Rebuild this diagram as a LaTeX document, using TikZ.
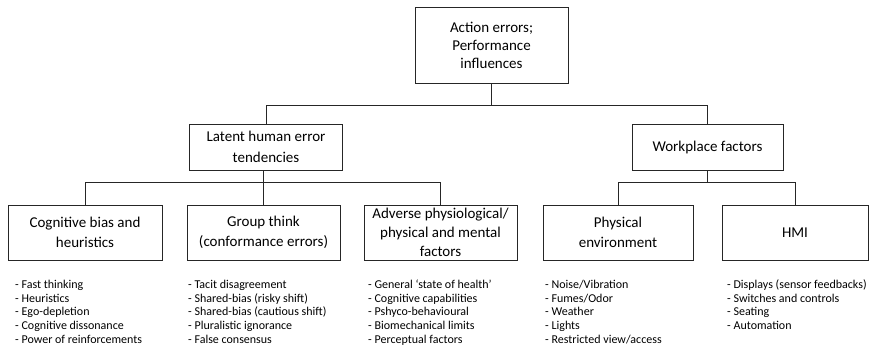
\documentclass[tikz,border=0pt]{standalone}
\usepackage{fontspec}
\setmainfont{Carlito}
\begin{document}
\begin{tikzpicture}[x=1pt,y=-1pt,
  box/.style={draw=black!85, line width=0.7pt, align=center, inner sep=2pt},
  link/.style={draw=black!85, line width=0.7pt},
  items/.style={anchor=base west, align=left, inner sep=0pt,
    font=\fontsize{12}{13.75}\selectfont}]
\useasboundingbox (0,0) rectangle (869,348);

% level 0
\node[box, minimum width=153pt, minimum height=76pt,
  font=\fontsize{15}{18}\selectfont] (top) at (491.5,45)
  {Action errors;\\Performance\\influences};

% level 1
\node[box, minimum width=153pt, minimum height=46pt,
  font=\fontsize{15}{21}\selectfont] (latent) at (266,147)
  {Latent human error\\tendencies};
\node[box, minimum width=151pt, minimum height=46pt,
  font=\fontsize{15}{20}\selectfont] (work) at (707.5,147)
  {Workplace factors};

% level 2
\tikzset{leaf/.style={box, minimum height=55pt, font=\fontsize{15}{20}\selectfont}}
\node[leaf, minimum width=154pt] (cog) at (85,232.5) {Cognitive bias and\\heuristics};
\node[leaf, minimum width=153pt] (group) at (263.5,232.5) {Group think\\(conformance errors)};
\node[leaf, minimum width=153pt, font=\fontsize{15}{19}\selectfont] (adv) at (440.5,232.5) {Adverse physiological/\\physical and mental\\factors};
\node[leaf, minimum width=150pt] (phys) at (618,232.5) {Physical\\environment};
\node[leaf, minimum width=146pt] (hmi) at (795,232.5) {HMI};

% connectors
\draw[link] (top.south) -- ++(0,22) -| (latent.north);
\draw[link] (top.south) -- ++(0,22) -| (work.north);
\draw[link] (latent.south -| group.north) -- (group.north);
\draw[link] (latent.south -| group.north) -- ++(0,12) -| (cog.north);
\draw[link] (latent.south -| group.north) -- ++(0,12) -| (adv.north);
\draw[link] (work.south) -- ++(0,12) -| (phys.north);
\draw[link] (work.south) -- ++(0,12) -| (hmi.north);

% item lists (anchored at the baseline of their last line)
\node[items] (cogl) at (15,343.3) {- Fast thinking\\- Heuristics\\- Ego-depletion\\- Cognitive dissonance\\- Power of reinforcements};
\node[items] (groupl) at (188,343.3) {- Tacit disagreement\\- Shared-bias (risky shift)\\- Shared-bias (cautious shift)\\- Pluralistic ignorance\\- False consensus};
\node[items] (advl) at (368,343.3) {- General ‘state of health’\\- Cognitive capabilities\\- Pshyco-behavioural\\- Biomechanical limits\\- Perceptual factors};
\node[items] (physl) at (545,343.3) {- Noise/Vibration\\- Fumes/Odor\\- Weather\\- Lights\\- Restricted view/access};
\node[items] (hmil) at (727,329.55) {- Displays (sensor feedbacks)\\- Switches and controls\\- Seating\\- Automation};
\end{tikzpicture}
\end{document}
